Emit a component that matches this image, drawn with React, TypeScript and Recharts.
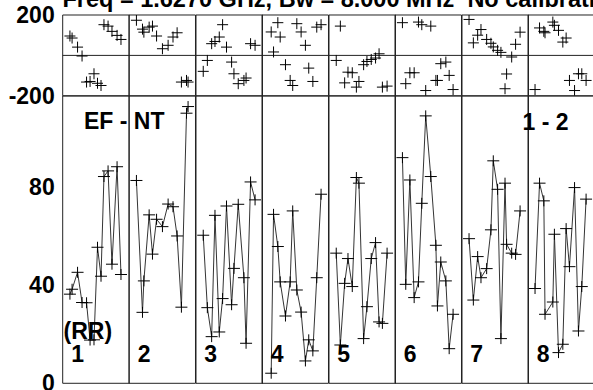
import { LineChart, Line, XAxis, YAxis, ReferenceLine } from 'recharts';

// 8 baselines, times in minutes from start of each panel (panel spans 34 min)
const panelLabels = ['1', '2', '3', '4', '5', '6', '7', '8'];

const times1 = [3.7, 4.8, 7.6, 9.9, 12.2, 14.0, 16.0, 17.8, 19.6, 21.1, 23.2, 25.2, 27.8, 29.8];
const amp1 = [36.3, 38.3, 45.2, 32.9, 32.8, 17.6, 17.7, 55.4, 43.6, 84.2, 86.5, 48.5, 88.2, 44.3];
const phase1 = [96, 86, 41, -3, -132, -129, -91, -138, -149, 152, 145, 119, 99, 79];

const times2 = [3.8, 6.9, 7.6, 10.3, 12.0, 14.1, 17.1, 20.0, 22.5, 24.6, 26.8, 29.4, 30.2];
const amp2 = [82.6, 28.9, 41.7, 68.6, 52.6, 66.8, 63.8, 73.0, 71.9, 60.0, 31.0, 110.0, 112.7];
const phase2 = [174, 130, 115, 140, 145, 96, 33, 50, 91, 112, -132, -124, -132];

const times3 = [3.7, 5.8, 8.0, 9.7, 11.9, 13.6, 15.6, 18.2, 19.4, 21.6, 24.5, 25.6, 27.9, 30.2];
const amp3 = [60.3, 30.8, 19.0, 68.4, 20.9, 34.5, 72.2, 32.0, 46.8, 72.9, 43.0, 16.3, 82.0, 74.7];
const phase3 = [-79, -25, 58, 69, 91, 152, 41, -33, -91, -140, -124, -112, 58, 50];

const times4 = [4.7, 5.9, 8.1, 9.3, 12.0, 14.4, 15.7, 17.8, 20.0, 22.2, 23.9, 26.0, 28.0, 30.2];
const amp4 = [4.1, 68.8, 55.7, 41.3, 27.4, 41.3, 70.2, 38.0, 29.0, 9.1, 17.7, 13.2, 43.0, 77.0];
const phase4 = [116, 17, 162, 91, -46, -124, -149, 157, 116, 50, -63, -129, 140, 152];

const times5 = [3.7, 5.8, 8.0, 9.7, 11.9, 14.0, 15.3, 17.7, 19.4, 21.6, 23.8, 25.6, 27.3, 29.7];
const amp5 = [53.0, 15.6, 40.7, 50.8, 39.4, 83.8, 81.5, 18.2, 31.2, 50.8, 57.3, 25.0, 24.4, 53.0];
const phase5 = [-25, 145, -136, -83, -86, -157, -129, -46, -30, -20, -13, 8, -157, -152];

const times6 = [3.8, 5.5, 7.6, 9.8, 12.0, 13.7, 15.7, 18.3, 20.9, 21.7, 23.4, 26.0, 27.7, 29.7];
const amp6 = [91.9, 40.3, 82.8, 34.9, 41.3, 73.3, 108.9, 84.2, 56.2, 31.5, 49.4, 41.7, 14.1, 28.1];
const phase6 = [162, -140, -86, -86, 165, 152, -174, 145, -124, -124, -41, -33, -99, -169];

const times7 = [3.6, 5.8, 8.0, 9.7, 12.6, 14.8, 16.0, 18.2, 19.9, 22.0, 22.8, 25.4, 27.4, 29.7];
const amp7 = [58.9, 33.9, 51.6, 43.0, 46.7, 62.5, 90.6, 79.0, 18.2, 81.5, 56.6, 53.0, 52.5, 70.2];
const phase7 = [178, 62, 100, 128, 79, 60, 42, 25, 15, -165, -92, -8, 55, 115];

const times8 = [3.6, 5.9, 8.1, 8.7, 12.7, 13.5, 15.6, 17.8, 19.5, 21.2, 23.8, 25.8, 27.5, 29.7];
const amp8 = [38.6, 81.5, 74.3, 28.1, 33.1, 60.7, 12.5, 15.9, 63.0, 47.5, 79.7, 21.3, 39.4, 75.0];
const phase8 = [-169, 136, 119, 112, 165, 149, 124, 66, 86, -124, -174, -91, -91, -124];

const allTimes = [times1, times2, times3, times4, times5, times6, times7, times8];
const allAmps = [amp1, amp2, amp3, amp4, amp5, amp6, amp7, amp8];
const allPhases = [phase1, phase2, phase3, phase4, phase5, phase6, phase7, phase8];

const timeTicks = [10, 20, 30];
const ampTicks = [20, 40, 60, 80, 100];
const ampLabels = [0, 40, 80];
const phaseLabels = [-200, 200];

const FONT = '"Liberation Sans", Arial, Helvetica, sans-serif';
const LEFT = 62.7;
const PANEL_W = 66.5;
const PAD = 8;
const PADV = 14;
const AXIS = '#222';

function Cross(props: any) {
  const { cx, cy, hw, hh } = props;
  if (cx == null || cy == null) return null;
  return (
    <path
      d={`M${cx - hw},${cy}H${cx + hw}M${cx},${cy - hh}V${cy + hh}`}
      stroke="#000"
      strokeWidth={1}
      fill="none"
    />
  );
}

function Panel({ idx, kind }: { idx: number; kind: 'amp' | 'phase' }) {
  const isAmp = kind === 'amp';
  const top = isAmp ? 95.5 : 14.7;
  const bottom = isAmp ? 382.8 : 95.5;
  const first = idx === 0;
  const left = first ? 0 : LEFT + idx * PANEL_W - PAD;
  const width = first ? LEFT + PANEL_W + PAD : PANEL_W + 2 * PAD;
  const height = bottom - top + 2 * PADV;
  const domain = isAmp ? [0, 117] : [-200, 200];
  const data = allTimes[idx].map((t, k) => ({
    t,
    amp: allAmps[idx][k],
    phase: allPhases[idx][k],
  }));
  const hw = isAmp ? 6 : 5.5;
  const hh = 5.5;

  return (
    <div style={{ position: 'absolute', left, top: top - PADV }}>
      <LineChart
        width={width}
        height={height}
        data={data}
        margin={{ top: PADV, bottom: PADV, left: first ? 0 : PAD, right: PAD }}
      >
        <XAxis xAxisId="b" dataKey="t" type="number" domain={[0, 34]} ticks={timeTicks}
          orientation="bottom" mirror tick={false} tickSize={5} height={10}
          axisLine={{ stroke: AXIS }} tickLine={{ stroke: AXIS }} allowDataOverflow />
        <XAxis xAxisId="t" type="number" domain={[0, 34]} ticks={timeTicks}
          orientation="top" mirror tick={false} tickSize={5} height={10}
          axisLine={{ stroke: AXIS }} tickLine={{ stroke: AXIS }} allowDataOverflow />
        {first && (
          <YAxis yAxisId="lab" type="number" domain={domain} ticks={isAmp ? ampLabels : phaseLabels}
            orientation="left" width={LEFT} interval={0} tickSize={6} tickMargin={2}
            axisLine={false} tickLine={false} allowDataOverflow
            tick={{ fontSize: 23, fontWeight: 'bold', fill: '#000', fontFamily: FONT }} />
        )}
        <YAxis yAxisId="l" type="number" domain={domain} ticks={isAmp ? ampTicks : []}
          orientation="left" mirror tick={false} tickSize={5} width={10}
          axisLine={{ stroke: AXIS }} tickLine={{ stroke: AXIS }} allowDataOverflow />
        <YAxis yAxisId="r" type="number" domain={domain} ticks={isAmp ? ampTicks : []}
          orientation="right" mirror tick={false} tickSize={5} width={10}
          axisLine={{ stroke: AXIS }} tickLine={{ stroke: AXIS }} allowDataOverflow />
        {!isAmp && <ReferenceLine xAxisId="b" yAxisId="l" y={0} stroke={AXIS} strokeWidth={1} />}
        <Line
          xAxisId="b"
          yAxisId="l"
          dataKey={isAmp ? 'amp' : 'phase'}
          type="linear"
          stroke={isAmp ? '#333' : 'none'}
          strokeWidth={1}
          isAnimationActive={false}
          dot={(p: any) => <Cross key={`c${p.index}`} cx={p.cx} cy={p.cy} hw={hw} hh={hh} />}
          activeDot={false}
        />
      </LineChart>
    </div>
  );
}

export default function App() {
  const txt = { fontFamily: FONT, fontWeight: 'bold' as const, fontSize: 23, fill: '#000' };
  return (
    <div style={{ position: 'absolute', left: 0, top: 0, width: 593, height: 390, overflow: 'hidden', background: '#fff' }}>
      {panelLabels.map((_, i) => (
        <Panel key={`p${i}`} idx={i} kind="phase" />
      ))}
      {panelLabels.map((_, i) => (
        <Panel key={`a${i}`} idx={i} kind="amp" />
      ))}
      <svg width={593} height={390} style={{ position: 'absolute', left: 0, top: 0, pointerEvents: 'none' }}>
        <text x={62.5} y={6.5} style={{ whiteSpace: 'pre' }} {...txt} fontSize={23.5}>
          {'Freq = 1.6270 GHz, Bw = 8.000 MHz  No calibration'}
        </text>
        <text x={84} y={128.5} {...txt}>EF - NT</text>
        <text x={522.5} y={129.5} {...txt}>1 - 2</text>
        <text x={63.5} y={338.5} {...txt}>(RR)</text>
        {panelLabels.map((lab, i) => (
          <text key={`n${i}`} x={LEFT + i * PANEL_W + 8.5} y={361.7} {...txt}>{lab}</text>
        ))}
      </svg>
    </div>
  );
}
